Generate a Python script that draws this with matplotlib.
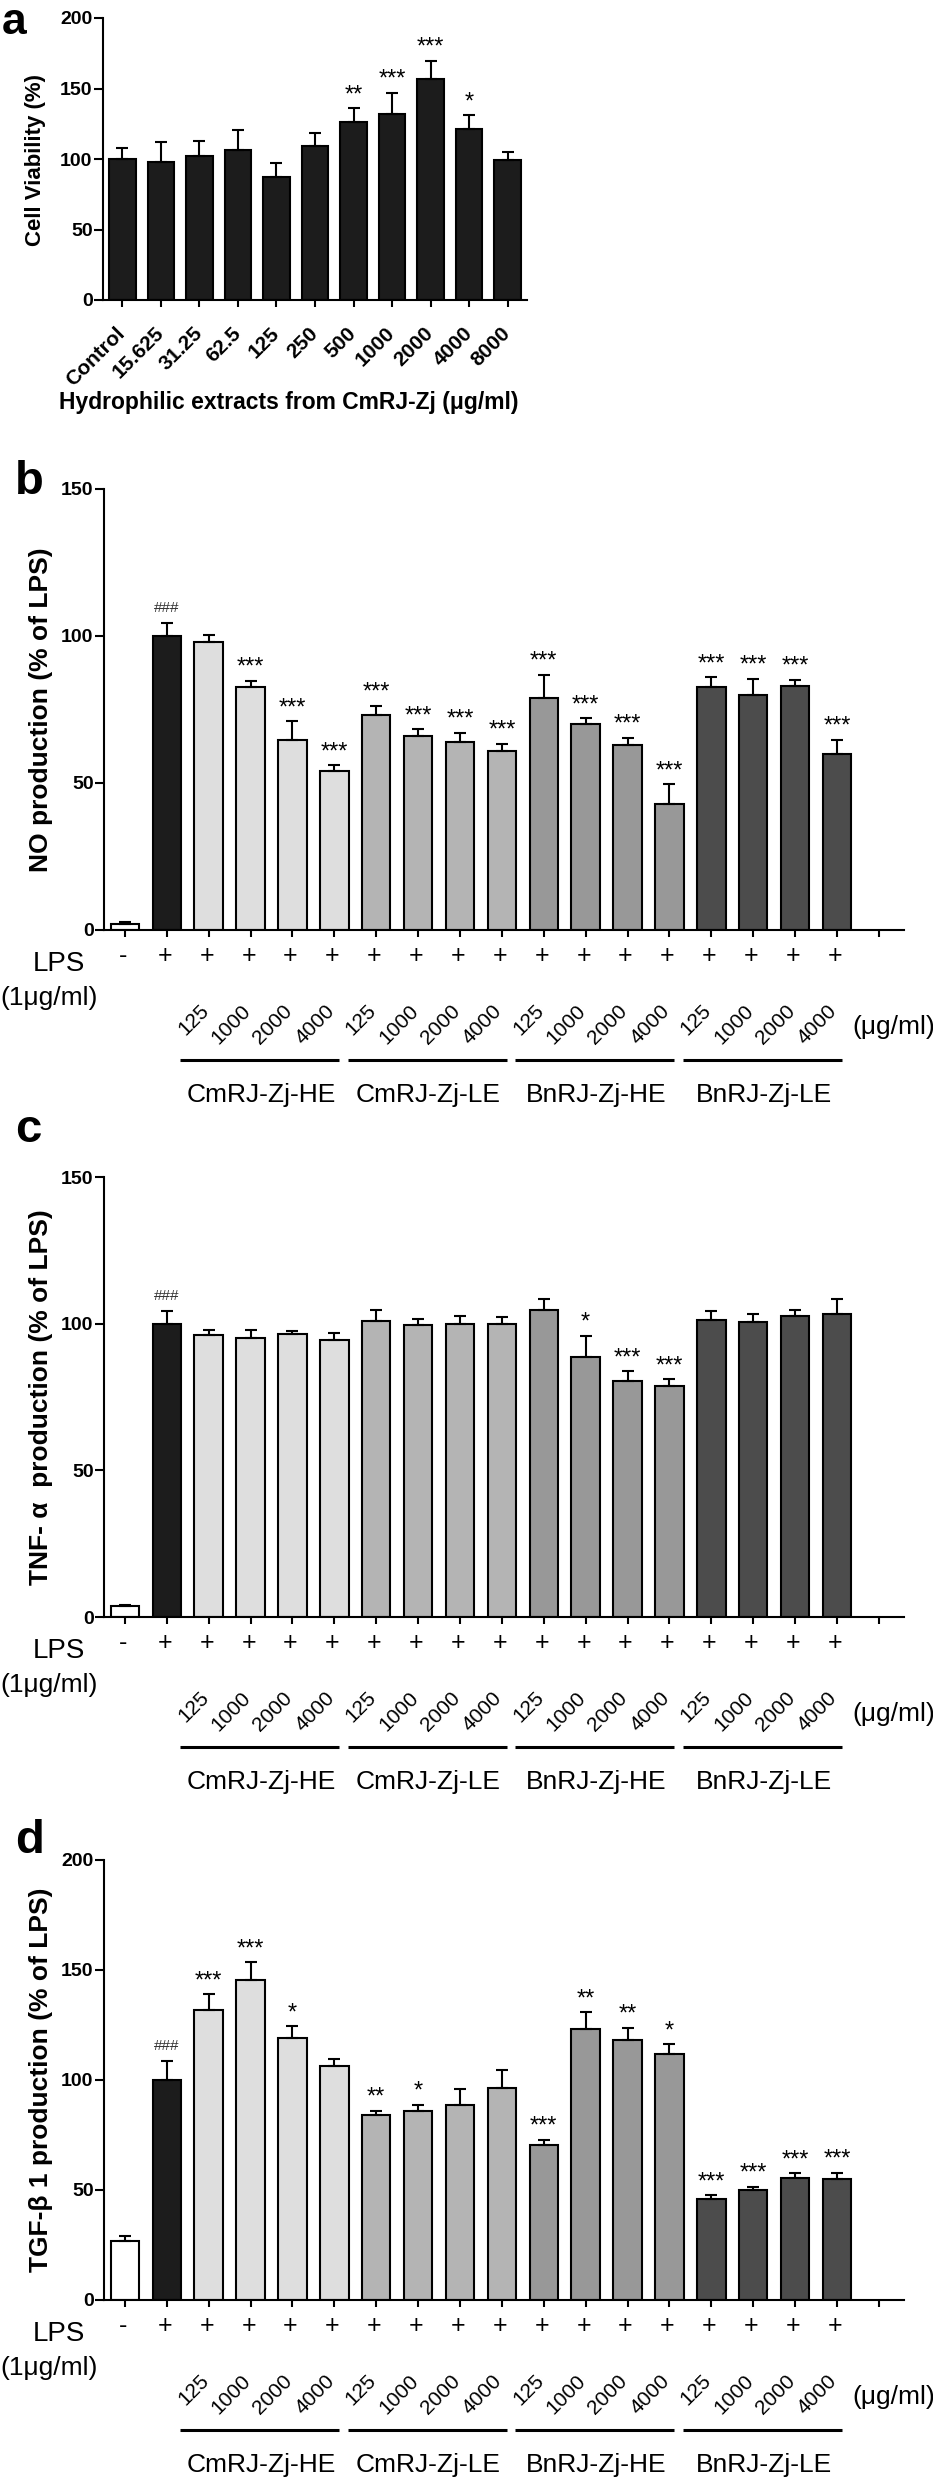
import matplotlib
matplotlib.use("Agg")
import matplotlib.pyplot as plt
from matplotlib import transforms
import numpy as np

plt.rcParams['font.family'] = ['Liberation Sans', 'DejaVu Sans']

W, H, DPI = 933, 2481, 100

# ---- panel a: cell viability ----
a_labels = ['Control', '15.625', '31.25', '62.5', '125', '250', '500',
            '1000', '2000', '4000', '8000']
a_means = [100, 98, 102, 106.5, 87.5, 109, 126.5, 132, 157, 121.5, 99.5]
a_errs = [7.7, 13.8, 10.8, 14, 9.8, 9.2, 9.5, 14.8, 12.5, 9.6, 5.2]
a_sig = ['', '', '', '', '', '', '**', '***', '***', '*', '']

# ---- panels b-d: shared treatment layout ----
groups = ['CmRJ-Zj-HE', 'CmRJ-Zj-LE', 'BnRJ-Zj-HE', 'BnRJ-Zj-LE']
doses = ['125', '1000', '2000', '4000']
lps = ['-'] + ['+'] * 17

no_means = [2.0, 100, 98, 82.5, 64.5, 54, 73, 66, 64, 61, 79, 70, 63, 43, 82.5, 80, 83, 59.7]
no_errs = [0.8, 4.5, 2.2, 2.2, 6.5, 2.1, 3.3, 2.3, 3.0, 2.3, 7.8, 2.0, 2.3, 6.5, 3.4, 5.5, 2.2, 5.0]
no_sig = ['', '###', '', '***', '***', '***', '***', '***', '***', '***',
          '***', '***', '***', '***', '***', '***', '***', '***']

tnf_means = [3.6, 100, 96, 95, 96.4, 94.6, 101, 99.5, 99.8, 100, 104.6, 88.5, 80.6, 78.7,
             101.2, 100.7, 102.6, 103.4]
tnf_errs = [0.4, 4.3, 1.8, 3.0, 1.1, 2.3, 3.5, 2.0, 2.9, 2.2, 3.9, 7.3, 3.2, 2.3, 3.0, 2.5, 2.2, 5.0]
tnf_sig = ['', '###', '', '', '', '', '', '', '', '', '', '*', '***', '***', '', '', '', '']

tgf_means = [27, 100, 132, 145.5, 119, 106.4, 84.3, 85.7, 88.7, 96.5, 70.6, 123.2, 118.4, 111.6,
             45.7, 50, 55.6, 55.2]
tgf_errs = [2, 8.8, 7, 8, 5.5, 3, 1.8, 3, 7, 8, 2.3, 7.6, 5.3, 4.7, 2, 1.4, 2, 2.7]
tgf_sig = ['', '###', '***', '***', '*', '', '**', '*', '', '', '***', '**', '**', '*',
           '***', '***', '***', '***']

group_colors = ['#dedede', '#b4b4b4', '#989898', '#4c4c4c']
bar_colors = ['white', '#1c1c1c'] + [c for c in group_colors for _ in doses]

fig = plt.figure(figsize=(W / DPI, H / DPI), dpi=DPI)


def px_axes(left, top, right, bottom):
    return fig.add_axes([left / W, 1 - bottom / H, (right - left) / W, (bottom - top) / H])


def fig_text(x, y, s, **kw):
    fig.text(x / W, 1 - y / H, s, **kw)


def style_axes(ax, ymax, step, nticks):
    for s in ['top', 'right']:
        ax.spines[s].set_visible(False)
    for s in ['left', 'bottom']:
        ax.spines[s].set_linewidth(1.5)
    ax.set_ylim(0, ymax)
    ticks = np.arange(0, ymax + 1, step)
    ax.set_yticks(ticks)
    ax.set_yticklabels([f'{t:g}' for t in ticks], fontsize=14, fontweight='bold')
    ax.set_xticks(np.arange(nticks))
    ax.set_xticklabels([])
    ax.tick_params(axis='y', length=6.5, width=1.5, pad=1)
    ax.tick_params(axis='x', length=5, width=1.5)


def draw_bars(ax, means, errs, colors, width):
    x = np.arange(len(means))
    ax.bar(x, means, width, color=colors, edgecolor='black', linewidth=1.5, zorder=2)
    ax.errorbar(x, means, yerr=[np.zeros(len(errs)), errs], fmt='none', ecolor='black',
                elinewidth=1.5, capsize=4.5, capthick=1.5, zorder=3)


def draw_sig(ax, means, errs, sig):
    for i, (m, e, s) in enumerate(zip(means, errs, sig)):
        if not s:
            continue
        if s.startswith('#'):
            ax.annotate(s, (i, m + e), xytext=(0, 11), textcoords='offset pixels',
                        ha='center', va='baseline', fontsize=11, color='#333333')
        else:
            ax.annotate(s, (i, m + e), xytext=(0, 7), textcoords='offset pixels',
                        ha='center', va='baseline', fontsize=17)


def treatment_rows(ax, zero_y):
    below = transforms.blended_transform_factory(ax.transData, ax.transAxes)
    line_tr = transforms.offset_copy(below, fig=fig, y=-130, units='dots')
    fig_text(33, zero_y + 34, 'LPS', fontsize=20, va='center', ha='left')
    fig_text(0, zero_y + 68, '(1μg/ml)', fontsize=19, va='center', ha='left')
    for i, s in enumerate(lps):
        ax.annotate(s, (i, 0), xycoords=('data', 'axes fraction'), xytext=(-2, -26),
                    textcoords='offset pixels', ha='center', va='center', fontsize=18)
    for g, name in enumerate(groups):
        first = 2 + 4 * g
        for j, d in enumerate(doses):
            ax.annotate(d, (first + j, 0), xycoords=('data', 'axes fraction'),
                        xytext=(-3, -78), textcoords='offset pixels', rotation=45,
                        rotation_mode='anchor', ha='right', va='center', fontsize=15)
        ax.plot([first - 0.68, first + 3.12], [0, 0], color='black', lw=2.2,
                transform=line_tr, clip_on=False, solid_capstyle='butt')
        ax.annotate(name, (first + 1.25, 0), xycoords=('data', 'axes fraction'),
                    xytext=(0, -165), textcoords='offset pixels', ha='center',
                    va='center', fontsize=19)
    fig_text(852, zero_y + 97, '(μg/ml)', fontsize=19, va='center', ha='left')


# ---- panel a ----
ax_a = px_axes(103, 18, 527, 300)
draw_bars(ax_a, a_means, a_errs, '#1c1c1c', 0.69)
style_axes(ax_a, 200, 50, len(a_labels))
ax_a.set_xlim(-0.5, 10.5)
draw_sig(ax_a, a_means, a_errs, a_sig)
for i, lab in enumerate(a_labels):
    ax_a.annotate(lab, (i, 0), xycoords=('data', 'axes fraction'), xytext=(0, -30),
                  textcoords='offset pixels', rotation=45, rotation_mode='anchor',
                  ha='right', va='center', fontsize=15, fontweight='bold')
fig_text(59, 403, 'Hydrophilic extracts from CmRJ-Zj (μg/ml)', fontsize=16.5,
         fontweight='bold', va='center', ha='left')
fig_text(36, 160, 'Cell Viability (%)', fontsize=16, fontweight='bold', rotation=90,
         va='center', ha='center')
fig_text(2, 34, 'a', fontsize=32, fontweight='bold', va='baseline')

# ---- panels b, c, d ----
panels = [
    ('b', 489, 930, 150, no_means, no_errs, no_sig, 'NO production (% of LPS)', 494),
    ('c', 1177, 1617, 150, tnf_means, tnf_errs, tnf_sig, 'TNF- α  production (% of LPS)', 1142),
    ('d', 1860, 2300, 200, tgf_means, tgf_errs, tgf_sig, 'TGF-β 1 production (% of LPS)', 1853),
]
for letter, top, bottom, ymax, means, errs, sig, ylabel, let_y in panels:
    ax = px_axes(104, top, 904, bottom)
    draw_bars(ax, means, errs, bar_colors, 0.68)
    style_axes(ax, ymax, 50, len(means) + 1)
    ax.set_xlim(-0.5, 18.6)
    draw_sig(ax, means, errs, sig)
    treatment_rows(ax, bottom)
    fig_text(41, (top + bottom) / 2, ylabel, fontsize=19, fontweight='bold', rotation=90,
             va='center', ha='center')
    fig_text(15, let_y, letter, fontsize=34, fontweight='bold', va='baseline')

fig.savefig('out.png', dpi=DPI)
